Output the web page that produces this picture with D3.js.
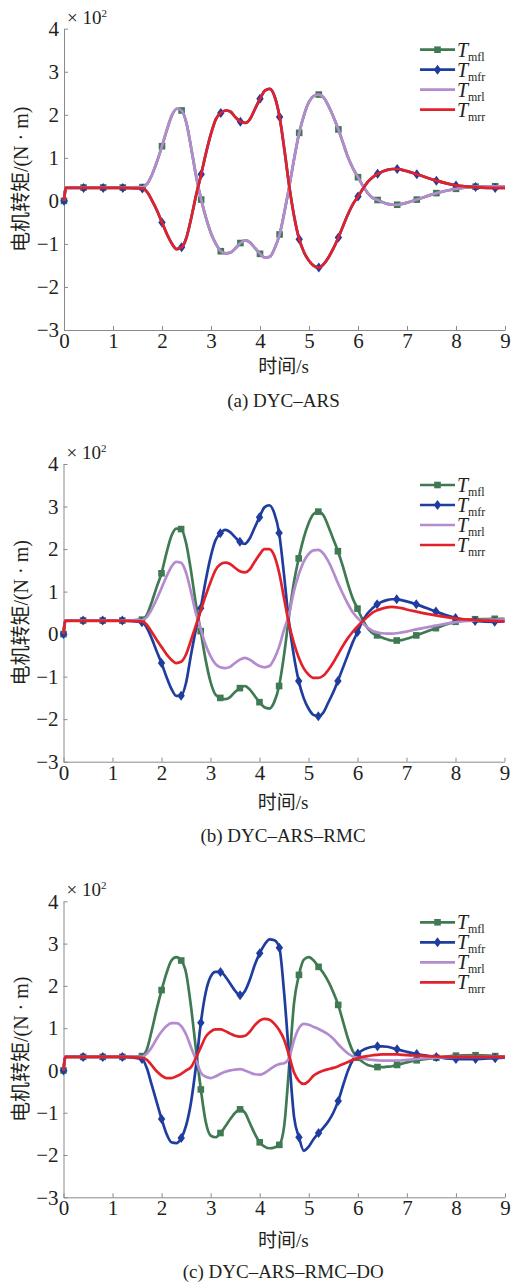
<!DOCTYPE html>
<html><head><meta charset="utf-8">
<script src="https://cdn.jsdelivr.net/npm/d3@7"></script>
<style>body{margin:0;background:#fff}svg{display:block}
.serif{font-family:"Liberation Serif","Tinos","DejaVu Serif",serif}
.cjk{font-family:"Liberation Serif","DejaVu Serif","Noto Sans CJK SC",serif}
</style>
</head><body><svg id="chart" width="513" height="1284"></svg>
<script>
// ---- data ----
const times = [0,0.04,0.4,0.8,1.2,
 1.6,1.7,1.8,1.9,2.0,2.1,2.2,2.3,2.4,2.5,2.6,2.7,2.8,2.9,3.0,3.1,3.2,3.3,3.4,3.5,3.6,3.7,3.8,3.9,
 4.0,4.1,4.2,4.3,4.4,4.5,4.6,4.7,4.8,4.9,5.0,5.1,5.2,5.3,5.4,5.5,5.6,5.7,5.8,5.9,
 6.0,6.1,6.2,6.3,6.4,6.5,6.6,6.7,6.8,6.9,7.0,
 7.2,7.6,8.0,8.4,8.8,9.0];
const xTicks = [0,1,2,3,4,5,6,7,8,9];
const yTicks = [-3,-2,-1,0,1,2,3,4];
const seriesNames = ["mfl","mfr","mrl","mrr"];
const captions = ["(a) DYC\u2013ARS","(b) DYC\u2013ARS\u2013RMC","(c) DYC\u2013ARS\u2013RMC\u2013DO"];
const xTitle = "时间/s";
const yTitle = "电机转矩/(N · m)";

// (a) DYC-ARS
const a_mfl = [0,0.31,0.31,0.31,0.31,
 0.32,0.4,0.62,0.92,1.27,1.65,1.98,2.14,2.1,1.8,1.2,0.55,0.03,-0.4,-0.75,-1.0,-1.17,-1.22,-1.2,-1.1,-0.98,-0.92,-0.97,-1.1,
 -1.23,-1.32,-1.3,-1.1,-0.78,-0.25,0.35,1.0,1.58,2.0,2.3,2.44,2.47,2.4,2.2,1.95,1.66,1.33,1.0,0.75,
 0.55,0.35,0.18,0.07,0.02,-0.03,-0.07,-0.09,-0.09,-0.07,-0.04,
 0.03,0.18,0.28,0.33,0.34,0.34];
const a_mfr = [0,0.3,0.3,0.3,0.3,
 0.29,0.2,0.0,-0.23,-0.5,-0.77,-0.99,-1.12,-1.08,-0.85,-0.38,0.15,0.62,1.12,1.56,1.9,2.04,2.1,2.07,1.94,1.84,1.81,1.91,2.14,
 2.37,2.56,2.6,2.42,1.95,1.17,0.32,-0.38,-0.89,-1.2,-1.39,-1.51,-1.55,-1.47,-1.31,-1.1,-0.85,-0.57,-0.3,-0.07,
 0.1,0.28,0.44,0.55,0.63,0.68,0.72,0.74,0.74,0.72,0.69,
 0.62,0.47,0.36,0.32,0.3,0.3];
const a_mrl = [0,0.31,0.31,0.31,0.31,
 0.32,0.4,0.62,0.92,1.27,1.65,1.98,2.14,2.1,1.8,1.2,0.55,0.03,-0.4,-0.75,-1.0,-1.17,-1.22,-1.2,-1.1,-0.98,-0.92,-0.97,-1.1,
 -1.23,-1.32,-1.3,-1.1,-0.78,-0.25,0.35,1.0,1.58,2.0,2.3,2.44,2.47,2.4,2.2,1.95,1.66,1.33,1.0,0.75,
 0.55,0.35,0.18,0.07,0.02,-0.03,-0.07,-0.09,-0.09,-0.07,-0.04,
 0.03,0.18,0.28,0.33,0.34,0.34];
const a_mrr = [0,0.3,0.3,0.3,0.3,
 0.29,0.2,0.0,-0.23,-0.5,-0.77,-0.99,-1.12,-1.08,-0.85,-0.38,0.15,0.62,1.12,1.56,1.9,2.04,2.1,2.07,1.94,1.84,1.81,1.91,2.14,
 2.37,2.56,2.6,2.42,1.95,1.17,0.32,-0.38,-0.89,-1.2,-1.39,-1.51,-1.55,-1.47,-1.31,-1.1,-0.85,-0.57,-0.3,-0.07,
 0.1,0.28,0.44,0.55,0.63,0.68,0.72,0.74,0.74,0.72,0.69,
 0.62,0.47,0.36,0.32,0.3,0.3];

// (b) DYC-ARS-RMC
const b_mfl = [0,0.32,0.32,0.32,0.32,
 0.34,0.45,0.75,1.1,1.43,1.9,2.3,2.48,2.47,2.15,1.5,0.72,0.07,-0.6,-1.12,-1.42,-1.5,-1.53,-1.48,-1.36,-1.27,-1.22,-1.3,-1.45,
 -1.6,-1.72,-1.75,-1.6,-1.22,-0.5,0.4,1.2,1.78,2.25,2.6,2.82,2.88,2.8,2.55,2.25,1.95,1.6,1.2,0.85,
 0.6,0.35,0.15,0.03,-0.03,-0.08,-0.12,-0.15,-0.15,-0.14,-0.11,
 -0.03,0.14,0.29,0.35,0.36,0.36];
const b_mfr = [0,0.32,0.32,0.32,0.32,
 0.28,0.15,-0.1,-0.4,-0.68,-1.0,-1.28,-1.45,-1.45,-1.15,-0.5,0.1,0.61,1.25,1.8,2.2,2.37,2.45,2.4,2.28,2.17,2.12,2.25,2.5,
 2.75,2.98,3.03,2.85,2.38,1.4,0.3,-0.5,-1.1,-1.5,-1.75,-1.9,-1.93,-1.85,-1.62,-1.38,-1.1,-0.8,-0.5,-0.2,
 0.05,0.3,0.48,0.6,0.7,0.76,0.8,0.82,0.82,0.8,0.77,
 0.7,0.53,0.38,0.31,0.29,0.3];
const b_mrl = [0,0.32,0.32,0.32,0.32,
 0.33,0.4,0.58,0.82,1.08,1.35,1.58,1.7,1.68,1.45,1.0,0.5,0.12,-0.25,-0.52,-0.7,-0.78,-0.8,-0.77,-0.68,-0.6,-0.56,-0.6,-0.68,
 -0.75,-0.78,-0.75,-0.58,-0.3,0.1,0.45,1.0,1.4,1.7,1.88,1.97,1.98,1.9,1.72,1.48,1.2,0.95,0.72,0.52,
 0.38,0.26,0.16,0.08,0.04,0.02,0.01,0.01,0.02,0.04,0.06,
 0.11,0.2,0.28,0.32,0.34,0.34];
const b_mrr = [0,0.31,0.31,0.31,0.31,
 0.3,0.22,0.05,-0.13,-0.3,-0.47,-0.6,-0.68,-0.65,-0.48,-0.15,0.2,0.55,0.9,1.22,1.5,1.64,1.68,1.65,1.56,1.48,1.45,1.52,1.7,
 1.87,2.0,2.0,1.85,1.45,0.85,0.25,-0.2,-0.55,-0.8,-0.95,-1.03,-1.03,-0.98,-0.85,-0.68,-0.48,-0.28,-0.1,0.05,
 0.18,0.3,0.4,0.5,0.56,0.6,0.63,0.64,0.63,0.61,0.58,
 0.53,0.44,0.37,0.33,0.31,0.3];

// (c) DYC-ARS-RMC-DO
const c_mfl = [0,0.32,0.32,0.32,0.32,
 0.34,0.5,0.95,1.45,1.9,2.3,2.6,2.68,2.6,2.3,1.5,0.5,-0.45,-1.22,-1.54,-1.58,-1.48,-1.32,-1.15,-1.0,-0.92,-1.0,-1.25,-1.5,
 -1.7,-1.8,-1.84,-1.82,-1.76,-1.3,0.1,1.6,2.26,2.62,2.68,2.6,2.45,2.3,2.1,1.85,1.55,1.15,0.75,0.45,
 0.3,0.2,0.13,0.1,0.08,0.08,0.09,0.1,0.13,0.16,0.19,
 0.24,0.3,0.35,0.36,0.34,0.33];
const c_mfr = [0,0.32,0.32,0.32,0.32,
 0.27,0.05,-0.35,-0.75,-1.15,-1.5,-1.7,-1.72,-1.6,-1.3,-0.75,0.1,1.13,1.85,2.22,2.33,2.33,2.22,2.05,1.88,1.78,1.88,2.15,2.5,
 2.77,2.98,3.1,3.08,2.9,1.8,0.3,-1.1,-1.58,-1.9,-1.8,-1.62,-1.48,-1.35,-1.2,-1.0,-0.72,-0.35,0.0,0.25,
 0.4,0.48,0.53,0.56,0.57,0.57,0.56,0.53,0.5,0.47,0.44,
 0.39,0.32,0.27,0.27,0.29,0.3];
const c_mrl = [0,0.32,0.32,0.32,0.32,
 0.33,0.4,0.55,0.75,0.92,1.05,1.12,1.12,1.05,0.85,0.55,0.25,-0.05,-0.15,-0.18,-0.14,-0.08,-0.03,0.0,0.02,0.03,0.0,-0.05,-0.09,
 -0.1,-0.06,0.02,0.1,0.15,0.17,0.3,0.72,1.0,1.1,1.08,1.03,0.98,0.92,0.85,0.75,0.62,0.5,0.4,0.33,
 0.3,0.28,0.26,0.25,0.24,0.23,0.23,0.23,0.23,0.24,0.25,
 0.27,0.3,0.32,0.32,0.32,0.32];
const c_mrr = [0,0.32,0.32,0.32,0.32,
 0.3,0.25,0.12,-0.02,-0.12,-0.18,-0.18,-0.14,-0.08,0.0,0.08,0.3,0.55,0.8,0.92,0.97,0.97,0.93,0.87,0.82,0.8,0.82,0.92,1.07,
 1.18,1.22,1.2,1.1,0.95,0.72,0.35,-0.05,-0.25,-0.32,-0.25,-0.12,-0.05,0.0,0.03,0.06,0.1,0.15,0.2,0.25,
 0.29,0.32,0.34,0.36,0.37,0.38,0.38,0.38,0.38,0.37,0.36,
 0.35,0.33,0.32,0.32,0.32,0.32];

// ---- styles / layout ----
const colors = {mfl:"#3f7a52", mfr:"#1f3d9e", mrl:"#b48bcf", mrr:"#e2222b"};
const markerType = {mfl:"square", mfr:"diamond", mrl:null, mrr:null};

const panels = [
 {series:[a_mfl,a_mfr,a_mrl,a_mrr], cap:captions[0], x0:64, x1:505, top:28.7, bottom:330, xlabY:373, capY:407},
 {series:[b_mfl,b_mfr,b_mrl,b_mrr], cap:captions[1], x0:63.5, x1:504.5, top:464, bottom:761.7, xlabY:809, capY:842},
 {series:[c_mfl,c_mfr,c_mrl,c_mrr], cap:captions[2], x0:63.5, x1:505, top:901.3, bottom:1197.3, xlabY:1247, capY:1278}
];

const svg = d3.select("#chart");
const axisGrey = "#8a8a8a";
const textCol = "#231f20";

function marker(g, type, cx, cy, col){
  if(type==="square"){
    g.append("rect").attr("x",cx-3.3).attr("y",cy-3.3).attr("width",6.6).attr("height",6.6).attr("fill",col);
  } else if(type==="diamond"){
    g.append("path").attr("d",`M${cx},${cy-5}L${cx+3.7},${cy}L${cx},${cy+5}L${cx-3.7},${cy}Z`).attr("fill",col);
  }
}

panels.forEach(p=>{
  const g = svg.append("g");
  const x = d3.scaleLinear().domain([0,9]).range([p.x0,p.x1]);
  const y = d3.scaleLinear().domain([-3,4]).range([p.bottom,p.top]);

  // axes
  const xa = g.append("g").attr("transform",`translate(0,${p.bottom})`)
    .call(d3.axisBottom(x).tickValues(xTicks).tickSize(-4).tickSizeOuter(0).tickPadding(3).tickFormat(d3.format("d")));
  const ya = g.append("g").attr("transform",`translate(${p.x0},0)`)
    .call(d3.axisLeft(y).tickValues(yTicks).tickSize(-4).tickSizeOuter(0).tickPadding(5).tickFormat(d3.format("d")));
  [xa,ya].forEach(a=>{
    a.attr("font-family",null).attr("font-size",null);
    a.select(".domain").attr("stroke",axisGrey).attr("stroke-width",1);
    a.selectAll(".tick line").attr("stroke",axisGrey).attr("stroke-width",1);
    a.selectAll(".tick text").attr("class","serif").attr("fill",textCol).style("font-size","21px");
  });

  // exponent
  const ex = g.append("text").attr("class","serif").attr("x",p.x0+3).attr("y",p.top-5).attr("fill",textCol)
    .style("font-size","19px");
  ex.append("tspan").text("\u00d7 10");
  ex.append("tspan").attr("dy",-7).style("font-size","11px").text("2");

  // lines
  const line = d3.line().x(d=>x(d[0])).y(d=>y(d[1])).curve(d3.curveMonotoneX);
  seriesNames.forEach((name,i)=>{
    const vals = p.series[i];
    const pts = times.map((t,j)=>[t,vals[j]]);
    g.append("path").datum(pts).attr("d",line).attr("fill","none")
      .attr("stroke",colors[name]).attr("stroke-width",2.7).attr("stroke-linejoin","round");
    if(markerType[name]){
      const mg = g.append("g");
      pts.filter(d=>d[0]<=8.8+1e-9 && Math.abs(d[0]/0.4-Math.round(d[0]/0.4))<1e-6)
        .forEach(d=>marker(mg, markerType[name], x(d[0]), y(d[1]), colors[name]));
    }
  });

  // legend
  const lx1 = 420, lx2 = 455;
  seriesNames.forEach((name,i)=>{
    const ly = p.top + 21 + 20*i;
    const lg = g.append("g");
    lg.append("line").attr("x1",lx1).attr("x2",lx2).attr("y1",ly).attr("y2",ly)
      .attr("stroke",colors[name]).attr("stroke-width",2.7);
    if(markerType[name]) marker(lg, markerType[name], (lx1+lx2)/2, ly, colors[name]);
    lg.append("text").attr("class","serif").attr("x",lx2+2).attr("y",ly+7).attr("fill",textCol)
      .style("font-style","italic").style("font-size","20px").text("T");
    lg.append("text").attr("class","serif").attr("x",lx2+13).attr("y",ly+11).attr("fill",textCol)
      .style("font-size","12px").text(name);
  });

  // axis titles
  g.append("text").attr("class","cjk").attr("x",(p.x0+p.x1)/2 - 1).attr("y",p.xlabY).attr("text-anchor","middle")
    .attr("fill",textCol).style("font-size","19px").text(xTitle);
  g.append("text").attr("class","cjk").attr("transform",`translate(28,${(p.top+p.bottom)/2}) rotate(-90)`).attr("text-anchor","middle")
    .attr("fill",textCol).style("font-size","20px").text(yTitle);
  // caption
  g.append("text").attr("class","serif").attr("x",(p.x0+p.x1)/2 - 1).attr("y",p.capY).attr("text-anchor","middle")
    .attr("fill",textCol).style("font-size","19px").text(p.cap);
});
</script>
</body></html>
